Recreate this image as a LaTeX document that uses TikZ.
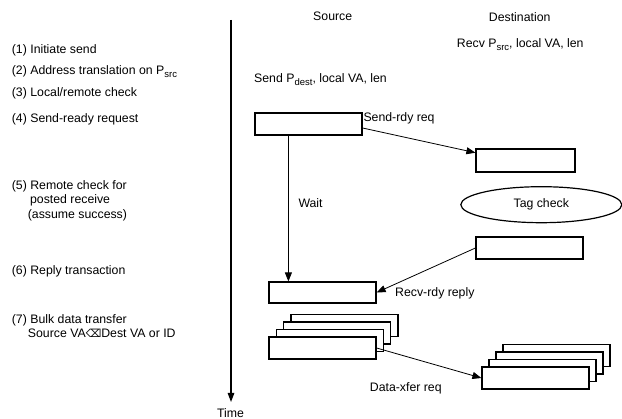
\documentclass[tikz,border=0pt]{standalone}
\usepackage{fontspec}
\setmainfont{Liberation Sans}
\newfontfamily\symfont{DejaVu Sans}
\usetikzlibrary{arrows.meta,shapes.geometric,calc}
\newcommand\subtx[1]{\raisebox{-0.45ex}{\fontsize{9.5}{9.5}\selectfont #1}}
\begin{document}
\begin{tikzpicture}[x=1pt,y=-1pt,
  every node/.style={font=\fontsize{12.3}{14.7}\selectfont, inner sep=0pt},
  boxst/.style={draw, line width=1.2pt, fill=white, minimum width=107pt, minimum height=22pt},
  arr/.style={line width=0.8pt, -{Triangle[length=9pt,width=7pt]}},
  lbl/.style={anchor=west, align=left}]
\useasboundingbox (0,0) rectangle (622,419);
% left labels
\node[lbl] (l1) at (11.7,50.7) {(1) Initiate send};
\node[lbl] (l2) at (11.7,71.7) {(2) Address translation on P\subtx{src}};
\node[lbl] (l3) at (11.7,93.3) {(3) Local/remote check};
\node[lbl] (l4) at (11.7,119.3) {(4) Send-ready request};
\node[lbl] (l5a) at (11.7,186) {(5) Remote check for};
\node[lbl] (l5b) at (29.9,200.7) {posted receive};
\node[lbl] (l5c) at (27.7,215) {(assume success)};
\node[lbl] (l6) at (11.7,271.7) {(6) Reply transaction};
\node[lbl] (l7a) at (11.7,320) {(7) Bulk data transfer};
\node[lbl] (l7b) at (27.7,333.3) {Source VA{\symfont\fontsize{11}{11}\selectfont ⌫}Dest VA or ID};
% timeline
\coordinate (t0) at (231,20);
\coordinate (t1) at (231,402);
\draw[line width=1.2pt, -{Triangle[length=9pt,width=6.5pt]}] (t0) -- (t1);
\node (time) at (230.5,413) {Time};
% headers
\node (src) at (332.7,16) {Source};
\node (dst) at (519.7,17) {Destination};
\node[anchor=west] (recv) at (456.7,45) {Recv P\subtx{src}, local VA, len};
\node[anchor=west] (send) at (254,79.3) {Send P\subtx{dest}, local VA, len};
% boxes
\node[boxst] (sendbox) at (308.5,124) {};
\node[boxst, minimum width=99pt, minimum height=23pt] (dest1) at (525.5,160.5) {};
\node[draw, ellipse, line width=1.2pt, minimum width=161pt, minimum height=36pt] (tag) at (541.3,204.7) {Tag check};
\node[boxst] (dest2) at (529.5,248) {};
\node[boxst, minimum height=21pt] (replybox) at (322.5,292.5) {};
% source stack
\node[boxst] (s4) at (344.4,325.5) {};
\node[boxst] (s3) at (337.1,333) {};
\node[boxst] (s2) at (329.8,340.5) {};
\node[boxst] (s1) at (322.5,348) {};
% destination stack
\node[boxst] (d4) at (556.5,355.5) {};
\node[boxst] (d3) at (549.5,363) {};
\node[boxst] (d2) at (542.5,370.5) {};
\node[boxst] (d1) at (535.5,378) {};
% connectors
\draw[arr] ($(sendbox.east)+(0,4)$) -- ($(dest1.west)+(0,-7.8)$);
\coordinate (w) at ($(sendbox.south west)+(34,0)$);
\draw[arr] (w) -- (w |- replybox.north);
\draw[arr] (dest2.west) -- (replybox.east);
\draw[arr] (s1.east) -- (d1.west);
% connector labels
\node[anchor=west] (lsr) at (363.3,118.3) {Send-rdy req};
\node[anchor=west] (lwait) at (298.3,202.7) {Wait};
\node[anchor=west] (lrr) at (395,293.3) {Recv-rdy reply};
\node (ldx) at (405.8,388.3) {Data-xfer req};
\end{tikzpicture}
\end{document}
